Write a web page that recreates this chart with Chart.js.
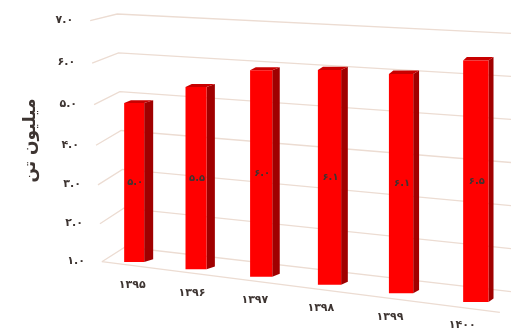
<!DOCTYPE html>
<html><head><meta charset="utf-8">
<script src="https://cdn.jsdelivr.net/npm/chart.js@4.4.1/dist/chart.umd.min.js"></script>
<style>html,body{margin:0;padding:0;background:#fff;overflow:hidden}canvas{display:block}</style>
</head><body>
<canvas id="c" width="511" height="332"></canvas>
<script>
const categories = ['۱۳۹۵','۱۳۹۶','۱۳۹۷','۱۳۹۸','۱۳۹۹','۱۴۰۰'];
const values = [5.0, 5.5, 6.0, 6.1, 6.1, 6.5];
const valueLabels = ['۵.۰','۵.۵','۶.۰','۶.۱','۶.۱','۶.۵'];
const yTickValues = [1,2,3,4,5,6,7];
const yTickLabels = ['۱.۰','۲.۰','۳.۰','۴.۰','۵.۰','۶.۰','۷.۰'];
const axisTitle = 'میلیون تن';

const FONT = '"DejaVu Sans", sans-serif';
const TEXT = '#3d3431';
const GRID = '#ecdcd2';
const Y_MIN = yTickValues[0], Y_MAX = yTickValues[yTickValues.length-1];

let persp = null;
function buildPersp(chart){
  const xs = chart.scales.x, ys = chart.scales.y;
  const a = xs.getPixelForValue(0), b = xs.getPixelForValue(categories.length-1);
  const top = ys.getPixelForValue(Y_MAX), bottom = ys.getPixelForValue(Y_MIN);
  const q = 3.45e-4;
  persp = {
    a, b, top, bottom,
    warpX: x => x + q*(x-a)*(x-b),
    dWarp: x => 1 + q*(2*x - a - b),
    baseY: X => bottom + 1 + 0.117*(X - a),
    sy: X => 0.99 + 0.103*(X - a)/(b - a),
    depth: X => 9 - 4*(X - a)/(b - a),
    rise: X => 2.7 + 0.8*(X - a)/(b - a)
  };
}

const origDraw = Chart.BarElement.prototype.draw;
Chart.BarElement.prototype.draw = function(ctx){
  const P = persp;
  if(!P){ return origDraw.call(this, ctx); }
  const {x, y, base, width} = this.getProps(['x','y','base','width'], false);
  const X = P.warpX(x), sx = P.dWarp(x), Yb = P.baseY(X), sy = P.sy(X);
  const hw = width/2*sx;
  const Yt = Yb + (y - base)*sy;
  const d = P.depth(X), r = P.rise(X);
  ctx.save();
  ctx.fillStyle = '#a00000';
  ctx.beginPath();
  ctx.moveTo(X+hw, Yt); ctx.lineTo(X+hw+d, Yt-r); ctx.lineTo(X+hw+d, Yb-r); ctx.lineTo(X+hw, Yb);
  ctx.closePath(); ctx.fill();
  ctx.fillStyle = '#c80000';
  ctx.beginPath();
  ctx.moveTo(X-hw, Yt); ctx.lineTo(X+hw, Yt); ctx.lineTo(X+hw+d, Yt-r); ctx.lineTo(X-hw+d*0.75, Yt-r);
  ctx.closePath(); ctx.fill();
  ctx.translate(X, Yb); ctx.scale(sx, sy); ctx.translate(-x, -base);
  origDraw.call(this, ctx);
  ctx.restore();
};

const frame3d = {
  id: 'frame3d',
  beforeDatasetsDraw(chart){
    buildPersp(chart);
    const ctx = chart.ctx, ys = chart.scales.y, P = persp;
    const H = P.bottom - P.top;
    ctx.save();
    ctx.strokeStyle = GRID; ctx.lineWidth = 1.3;
    ctx.font = 'bold 11px ' + FONT; ctx.fillStyle = TEXT;
    ctx.textAlign = 'right'; ctx.textBaseline = 'middle';
    let L1 = null;
    yTickValues.forEach((v, i) => {
      const yf = ys.getPixelForValue(v);
      const t = (yf - P.top)/H;
      const LX = P.a - 44 + 11.7*t, LY = yf + 0.7 + 16*t*(1-t);
      const CX = P.a - 17 + 8*t, CY = P.top - 6 + (H - 8)*t;
      const RX = chart.width, RY = P.top + 13.3 + (H + 17.4)*t;
      ctx.beginPath(); ctx.moveTo(LX, LY); ctx.lineTo(CX, CY); ctx.lineTo(RX, RY); ctx.stroke();
      ctx.fillText(yTickLabels[i], LX - 17, LY - 0.5);
      if(v === Y_MIN) L1 = [LX, LY];
    });
    ctx.beginPath(); ctx.moveTo(L1[0], L1[1]); ctx.lineTo(L1[0] + 398, L1[1] + 50.7); ctx.stroke();
    ctx.save();
    ctx.translate(31, (P.top + P.bottom)/2);
    ctx.rotate(-Math.PI/2);
    ctx.textAlign = 'center'; ctx.textBaseline = 'middle';
    ctx.font = 'bold 17px ' + FONT;
    ctx.fillText(axisTitle, 0, 0);
    ctx.restore();
    ctx.restore();
  },
  afterDatasetsDraw(chart){
    const ctx = chart.ctx, P = persp;
    const meta = chart.getDatasetMeta(0);
    ctx.save();
    ctx.fillStyle = TEXT; ctx.textAlign = 'center'; ctx.textBaseline = 'middle';
    meta.data.forEach((el, i) => {
      const {x, y, base} = el.getProps(['x','y','base'], false);
      const X = P.warpX(x), Yb = P.baseY(X), Yt = Yb + (y - base)*P.sy(X);
      ctx.font = 'bold 10px ' + FONT;
      ctx.fillText(valueLabels[i], X + 1, (Yt + Yb)/2);
      ctx.font = 'bold 11px ' + FONT;
      ctx.fillText(categories[i], X - 2 - 0.034*(X - P.a), Yb + 23.5);
    });
    ctx.restore();
  }
};

new Chart(document.getElementById('c'), {
  type: 'bar',
  data: {
    labels: categories,
    datasets: [{
      data: values,
      base: Y_MIN,
      backgroundColor: '#ff0000',
      borderWidth: 0,
      categoryPercentage: 1,
      barPercentage: 0.332,
      clip: false
    }]
  },
  options: {
    responsive: false,
    animation: false,
    devicePixelRatio: 1,
    layout: { padding: { left: 100, right: 1, top: 20, bottom: 71 } },
    plugins: { legend: { display: false }, tooltip: { enabled: false } },
    scales: {
      x: { display: false },
      y: { display: false, min: Y_MIN, max: Y_MAX, beginAtZero: false, ticks: { stepSize: 1 } }
    }
  },
  plugins: [frame3d]
});
</script>
</body></html>
